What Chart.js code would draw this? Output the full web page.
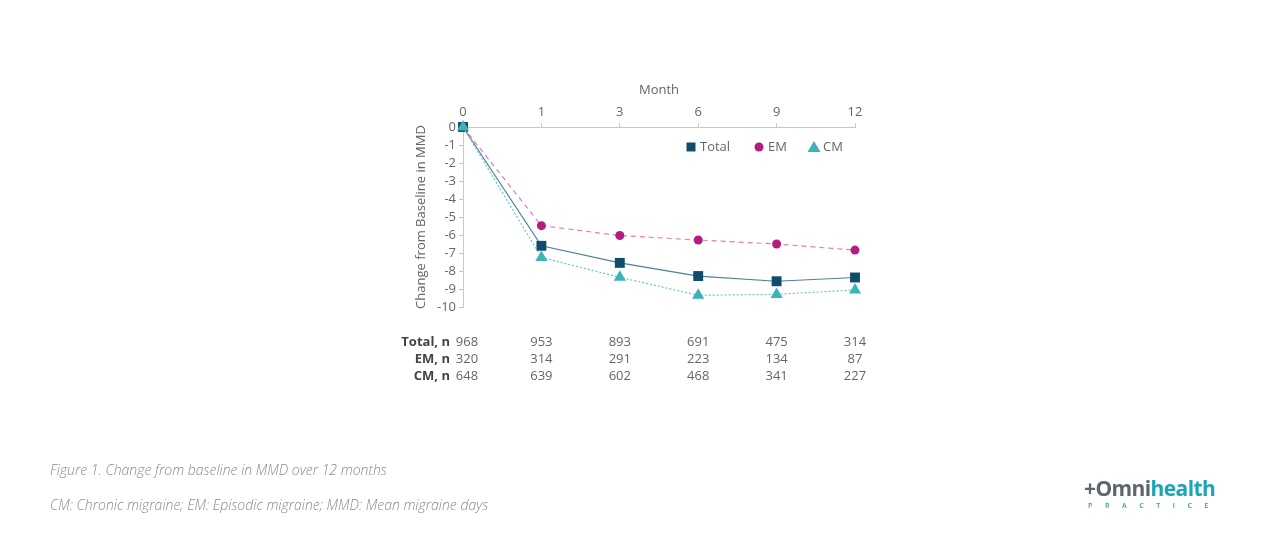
<!DOCTYPE html>
<html>
<head>
<meta charset="utf-8">
<script src="https://cdn.jsdelivr.net/npm/chart.js@4"></script>
<style>
  html, body { margin: 0; padding: 0; background: #fff; }
  body { width: 1266px; height: 556px; position: relative; overflow: hidden; font-family: "Open Sans", sans-serif; }
  #wrap { position: absolute; left: 0; top: 0; width: 1266px; height: 556px; }
  .cap { position: absolute; left: 50px; font-size: 14px; font-style: italic; color: #8a8a8a; font-weight: 300; }
  #logo { position: absolute; left: 1084px; top: 476px; width: 140px; }
  #logo .name { font-size: 21px; font-weight: 700; letter-spacing: -0.6px; line-height: 25px; }
  #logo .name .a { color: #5b6670; }
  #logo .name .b { color: #1aa6b7; }
  #logo .sub { font-size: 7px; color: #1aa6b7; letter-spacing: 12.6px; margin-left: 4px; font-weight: 600; }
</style>
</head>
<body>
<div id="wrap"><canvas id="chart"></canvas></div>
<div class="cap" style="top:460px">Figure 1. Change from baseline in MMD over 12 months</div>
<div class="cap" style="top:495px">CM: Chronic migraine; EM: Episodic migraine; MMD: Mean migraine days</div>
<div id="logo"><div class="name"><span class="a">+Omni</span><span class="b">health</span></div><div class="sub">PRACTICE</div></div>
<script>
const months = ["0", "1", "3", "6", "9", "12"];
const totalChange = [0, -6.6, -7.55, -8.28, -8.57, -8.36];
const emChange = [0, -5.48, -6.03, -6.28, -6.5, -6.84];
const cmChange = [0, -7.25, -8.35, -9.35, -9.3, -9.05];

const nRowLabels = ["Total, n", "EM, n", "CM, n"];
const totalN = [968, 953, 893, 691, 475, 314];
const emN = [320, 314, 291, 223, 134, 87];
const cmN = [648, 639, 602, 468, 341, 227];

const textColor = "#666";
const axisColor = "#c8c8c8";

const nTablePlugin = {
  id: "nTable",
  afterDraw(chart) {
    const ctx = chart.ctx;
    const x = chart.scales.x;
    const rows = [totalN, emN, cmN];
    ctx.save();
    ctx.textBaseline = "middle";
    rows.forEach((vals, r) => {
      const y = 342 + r * 17;
      ctx.font = "bold 13px 'Open Sans'";
      ctx.fillStyle = "#444";
      ctx.textAlign = "right";
      ctx.fillText(nRowLabels[r], 450, y);
      ctx.font = "13px 'Open Sans'";
      ctx.fillStyle = textColor;
      ctx.textAlign = "center";
      vals.forEach((v, i) => {
        ctx.fillText(String(v), x.getPixelForValue(i) + (i === 0 ? 4 : 0), y);
      });
    });
    ctx.restore();
  }
};

const legendPlugin = {
  id: "insideLegend",
  afterDraw(chart) {
    const ctx = chart.ctx;
    const items = chart.data.datasets;
    const starts = [686, 754, 809];
    const y = 147;
    ctx.save();
    ctx.font = "13px 'Open Sans'";
    ctx.textBaseline = "middle";
    ctx.textAlign = "left";
    items.forEach((ds, i) => {
      const cx = starts[i] + 5;
      ctx.fillStyle = ds.pointBackgroundColor;
      ctx.beginPath();
      if (ds.pointStyle === "rect") {
        ctx.rect(cx - 4.5, y - 4.5, 9, 9);
      } else if (ds.pointStyle === "circle") {
        ctx.arc(cx, y, 4.5, 0, Math.PI * 2);
      } else {
        ctx.moveTo(cx, y - 6);
        ctx.lineTo(cx + 6.5, y + 5);
        ctx.lineTo(cx - 6.5, y + 5);
        ctx.closePath();
      }
      ctx.fill();
      ctx.fillStyle = textColor;
      ctx.fillText(ds.label, cx + 9, y);
    });
    ctx.restore();
  }
};

new Chart(document.getElementById("chart"), {
  type: "line",
  data: {
    labels: months,
    datasets: [
      {
        label: "Total",
        data: totalChange,
        order: 2,
        clip: false,
        borderColor: "#4e8197",
        borderWidth: 1.2,
        pointStyle: "rect",
        pointRadius: 7,
        pointBackgroundColor: "#0e4d6c",
        pointBorderColor: "#0e4d6c",
        pointBorderWidth: 0,
        tension: 0
      },
      {
        label: "EM",
        data: emChange,
        order: 3,
        clip: false,
        borderColor: "#e07fb3",
        borderWidth: 1.2,
        borderDash: [5, 4],
        pointStyle: "circle",
        pointRadius: 4.5,
        pointBackgroundColor: "#b51c7e",
        pointBorderColor: "#b51c7e",
        pointBorderWidth: 0,
        tension: 0
      },
      {
        label: "CM",
        data: cmChange,
        order: 1,
        clip: false,
        borderColor: "#63c8cc",
        borderWidth: 1.2,
        borderDash: [2, 2],
        pointStyle: "triangle",
        pointRadius: 7,
        pointBackgroundColor: "#3bb4b8",
        pointBorderColor: "#3bb4b8",
        pointBorderWidth: 0,
        tension: 0
      }
    ]
  },
  options: {
    responsive: true,
    maintainAspectRatio: false,
    animation: false,
    layout: { padding: { left: 413, right: 411, top: 82, bottom: 249 } },
    plugins: { legend: { display: false }, tooltip: { enabled: false } },
    scales: {
      x: {
        position: "top",
        offset: false,
        afterFit(scale) { scale.height = 45; },
        grid: { drawOnChartArea: false, color: axisColor, tickLength: 4 },
        border: { color: axisColor },
        ticks: { color: textColor, font: { family: "Open Sans", size: 13 }, padding: 3, maxRotation: 0 },
        title: { display: true, text: "Month", color: textColor, font: { family: "Open Sans", size: 13 }, padding: 0 }
      },
      y: {
        min: -10,
        max: 0,
        afterFit(scale) { scale.width = 50; },
        grid: { drawOnChartArea: false, color: axisColor, tickLength: 4 },
        border: { color: axisColor },
        ticks: { stepSize: 1, autoSkip: false, color: textColor, font: { family: "Open Sans", size: 13 }, padding: 3 },
        title: { display: true, text: "Change from Baseline in MMD", color: textColor, font: { family: "Open Sans", size: 13 }, padding: 0 }
      }
    }
  },
  plugins: [nTablePlugin, legendPlugin]
});
</script>
</body>
</html>
